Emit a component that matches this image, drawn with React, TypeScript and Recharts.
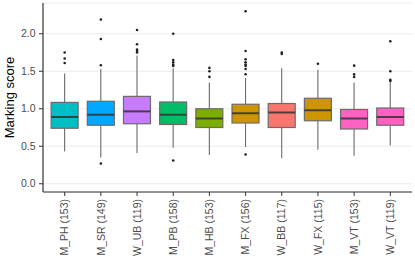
import React from 'react';
import { ComposedChart, Bar, Scatter, XAxis, YAxis, CartesianGrid } from 'recharts';

const categories = ['M_PH (153)', 'M_SR (149)', 'W_UB (119)', 'M_PB (158)', 'M_HB (153)', 'M_FX (156)', 'W_BB (117)', 'W_FX (115)', 'M_VT (153)', 'W_VT (119)'];
const lowerWhisker = [0.43, 0.35, 0.41, 0.48, 0.385, 0.49, 0.34, 0.455, 0.375, 0.51];
const q1 = [0.74, 0.78, 0.8, 0.79, 0.75, 0.81, 0.75, 0.84, 0.73, 0.78];
const median = [0.89, 0.92, 0.965, 0.92, 0.87, 0.94, 0.95, 0.98, 0.87, 0.89];
const q3 = [1.085, 1.1, 1.165, 1.09, 1.0, 1.06, 1.07, 1.14, 0.99, 1.01];
const upperWhisker = [1.47, 1.53, 1.71, 1.54, 1.35, 1.41, 1.54, 1.52, 1.35, 1.355];
const outliers = [
  [1.75, 1.67, 1.61],
  [2.19, 1.93, 1.58, 0.27],
  [2.05, 1.86, 1.79, 1.77, 1.75],
  [2.0, 1.65, 1.62, 1.59, 1.57, 0.31],
  [1.545, 1.5, 1.425],
  [2.3, 1.77, 1.66, 1.62, 1.59, 1.57, 1.53, 1.46, 0.39],
  [1.75, 1.73],
  [1.6],
  [1.575, 1.46, 1.425],
  [1.9, 1.5, 1.385, 1.37],
];
const boxColors = ['#00BFC4', '#00A9FF', '#C77CFF', '#00BE67', '#7CAE00', '#CD9600', '#F8766D', '#CD9600', '#FF61C3', '#FF61C3'];
const yTicks = [0, 0.5, 1, 1.5, 2];

const data = categories.map((name, i) => ({
  name,
  range: [lowerWhisker[i], upperWhisker[i]],
  lo: lowerWhisker[i],
  q1: q1[i],
  med: median[i],
  q3: q3[i],
  hi: upperWhisker[i],
  fill: boxColors[i],
}));

const outlierData = categories.flatMap((name, i) => outliers[i].map((value) => ({ name, value })));

const FONT = '"Liberation Sans", Arial, sans-serif';

// draws whiskers + box + median from the range bar's pixel extent
const BoxShape = (props: any) => {
  const { x, y, width, height, payload } = props;
  const top = Math.min(y, y + height);
  const h = Math.abs(height);
  const { lo, hi } = payload;
  const py = (v: number) => top + ((hi - v) / (hi - lo)) * h;
  const cx = x + width / 2;
  return (
    <g>
      <line x1={cx} x2={cx} y1={py(hi)} y2={py(payload.q3)} stroke="#6b6b6b" strokeWidth={1.1} />
      <line x1={cx} x2={cx} y1={py(payload.q1)} y2={py(lo)} stroke="#6b6b6b" strokeWidth={1.1} />
      <rect
        x={x}
        y={py(payload.q3)}
        width={width}
        height={py(payload.q1) - py(payload.q3)}
        fill={payload.fill}
        stroke="#6b6b6b"
        strokeWidth={1.2}
      />
      <line x1={x} x2={x + width} y1={py(payload.med)} y2={py(payload.med)} stroke="#333" strokeOpacity={0.85} strokeWidth={2} />
    </g>
  );
};

const XTick = (props: any) => {
  const { x, y, payload } = props;
  return (
    <g transform={`translate(${x},${y})`}>
      <text transform="rotate(-90)" x={-1} y={0} dy="0.35em" textAnchor="end" fill="#4d4d4d" fontSize={10.5} fontFamily={FONT}>
        {payload.value}
      </text>
    </g>
  );
};

const YLabel = (props: any) => {
  const vb = props.viewBox || {};
  const cy = (vb.y ?? 3) + (vb.height ?? 189) / 2;
  return (
    <text x={9} y={cy} transform={`rotate(-90, 9, ${cy})`} textAnchor="middle" dominantBaseline="central" fontSize={13} fontFamily={FONT} fill="#000">
      Marking score
    </text>
  );
};

export default function App() {
  return (
    <div style={{ position: 'absolute', left: 0, top: 0, width: 415, height: 277, background: '#fff' }}>
      <ComposedChart width={415} height={277} data={data} margin={{ top: 3, right: 3, bottom: 0, left: 0 }} barCategoryGap="12.5%">
        <CartesianGrid vertical={false} stroke="#ebebeb" strokeWidth={1} />
        <XAxis
          dataKey="name"
          type="category"
          allowDuplicatedCategory={false}
          height={85}
          padding={{ left: 3.6, right: 3.6 }}
          interval={0}
          tick={<XTick />}
          tickSize={4}
          tickMargin={2}
          tickLine={{ stroke: '#333' }}
          axisLine={{ stroke: '#333', strokeWidth: 1.2 }}
        />
        <XAxis xAxisId="top" orientation="top" dataKey="name" height={0} tick={false} tickLine={false} axisLine={{ stroke: '#333' }} />
        <YAxis
          type="number"
          domain={[-0.11, 2.41]}
          ticks={yTicks}
          width={43}
          tickFormatter={(v: number) => v.toFixed(1)}
          tick={{ fill: '#4d4d4d', fontSize: 10.5, fontFamily: FONT }}
          tickSize={4}
          tickMargin={3.5}
          tickLine={{ stroke: '#333' }}
          axisLine={{ stroke: '#333', strokeWidth: 1.2 }}
          label={<YLabel />}
        />
        <YAxis yAxisId="right" orientation="right" width={0} tick={false} tickLine={false} axisLine={{ stroke: '#333' }} domain={[-0.11, 2.41]} />
        <Bar dataKey="range" shape={<BoxShape />} isAnimationActive={false} />
        <Scatter
          data={outlierData}
          dataKey="value"
          fill="#222"
          isAnimationActive={false}
          shape={(p: any) => <circle cx={p.cx} cy={p.cy} r={1.3} fill="#222" />}
        />
      </ComposedChart>
    </div>
  );
}
